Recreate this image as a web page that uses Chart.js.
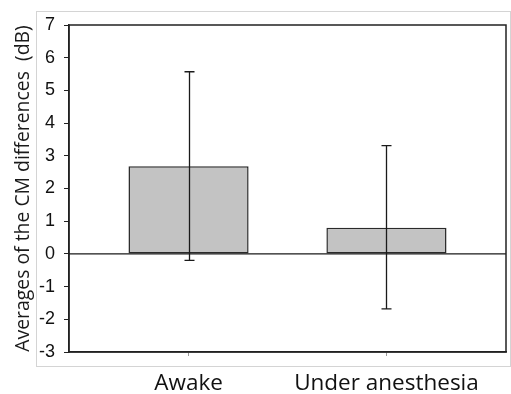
<!DOCTYPE html>
<html>
<head>
<meta charset="utf-8">
<script src="https://cdn.jsdelivr.net/npm/chart.js@4/dist/chart.umd.min.js"></script>
<style>
  html, body { margin: 0; padding: 0; background: #fff; }
  #wrap { width: 511px; height: 394px; }
</style>
</head>
<body>
<div id="wrap"><canvas id="myChart" width="511" height="394"></canvas></div>
<script>
var groups = ['Awake', 'Under anesthesia'];
var groupPos = [1, 2];
var means = [2.68, 0.80];
var errLow = [-0.20, -1.68];
var errHigh = [5.57, 3.31];
var yTicks = [-3, -2, -1, 0, 1, 2, 3, 4, 5, 6, 7];

var ctx = document.getElementById("myChart");

// light frame around the figure, black box round the plot, zero line, error bars
var decorations = {
    id: 'decorations',
    beforeDraw: function (chart) {
        var c = chart.ctx;
        c.save();
        c.strokeStyle = '#d4d4d4';
        c.lineWidth = 1;
        c.strokeRect(36.5, 11.5, 474, 355);
        c.restore();
    },
    afterDatasetsDraw: function (chart) {
        var c = chart.ctx;
        var a = chart.chartArea;
        var xs = chart.scales.x;
        var ys = chart.scales.y;
        c.save();
        c.strokeStyle = '#1a1a1a';
        c.lineWidth = 1.3;
        var y0 = ys.getPixelForValue(0);
        c.beginPath();
        c.moveTo(a.left, y0);
        c.lineTo(a.right, y0);
        c.stroke();

        for (var i = 0; i < groupPos.length; i++) {
            var x = Math.round(xs.getPixelForValue(groupPos[i])) + 0.5;
            var lo = ys.getPixelForValue(errLow[i]);
            var hi = ys.getPixelForValue(errHigh[i]);
            c.beginPath();
            c.moveTo(x, lo);
            c.lineTo(x, hi);
            c.moveTo(x - 5, lo);
            c.lineTo(x + 5, lo);
            c.moveTo(x - 5, hi);
            c.lineTo(x + 5, hi);
            c.stroke();
        }

        c.lineWidth = 1.5;
        c.strokeStyle = '#222';
        c.strokeRect(a.left, a.top, a.right - a.left, a.bottom - a.top);
        c.restore();
    }
};

var chart = new Chart(ctx, {
    type: 'bar',
    data: {
        datasets: [{
            data: groupPos.map(function (x, i) { return { x: x, y: means[i] }; }),
            backgroundColor: '#c3c3c3',
            borderColor: '#2a2a2a',
            borderWidth: 1.5,
            borderSkipped: false,
            categoryPercentage: 1,
            barPercentage: 0.607
        }]
    },
    options: {
        responsive: false,
        animation: false,
        layout: { padding: { left: 0, right: 5, top: 25, bottom: 0 } },
        plugins: {
            legend: { display: false },
            tooltip: { enabled: false }
        },
        scales: {
            x: {
                type: 'linear',
                offset: false,
                min: 0.396,
                max: 2.604,
                afterBuildTicks: function (scale) {
                    scale.ticks = groupPos.map(function (v) { return { value: v }; });
                },
                afterFit: function (scale) { scale.height = 42; },
                ticks: {
                    autoSkip: false,
                    maxRotation: 0,
                    padding: 14,
                    color: '#111',
                    font: { family: 'Open Sans', size: 22.5 },
                    callback: function (v) {
                        var i = groupPos.indexOf(v);
                        return i >= 0 ? groups[i] : '';
                    }
                },
                grid: { offset: false, drawOnChartArea: false, color: '#999', tickLength: 4 },
                border: { color: '#222', width: 1.5 }
            },
            y: {
                min: -3,
                max: 7,
                afterBuildTicks: function (scale) {
                    scale.ticks = yTicks.map(function (v) { return { value: v }; });
                },
                afterFit: function (scale) { scale.width = 69; },
                ticks: {
                    padding: 9,
                    color: '#111',
                    font: { family: 'Liberation Sans', size: 18 }
                },
                grid: { drawOnChartArea: false, color: '#222', tickLength: 5 },
                border: { color: '#222', width: 1.5 },
                title: {
                    display: true,
                    text: 'Averages of the CM differences  (dB)',
                    color: '#1a1a1a',
                    font: { family: 'Open Sans', size: 19.4 },
                    padding: { top: 12, bottom: 0 }
                }
            }
        }
    },
    plugins: [decorations]
});
</script>
</body>
</html>
